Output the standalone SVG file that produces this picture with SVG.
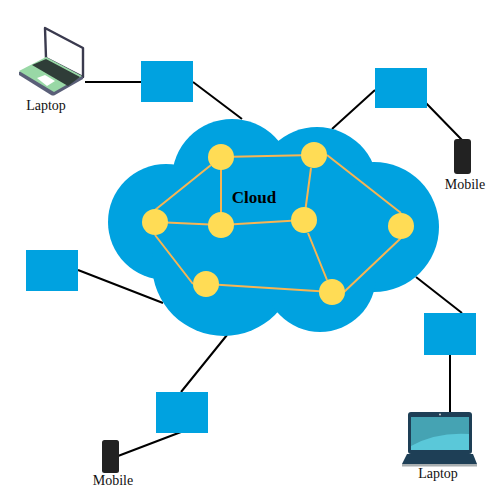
<svg xmlns="http://www.w3.org/2000/svg" width="500" height="500" viewBox="0 0 500 500">
<style>
.cl{fill:#00a2e0}
.box{fill:#00a2e0}
.wire{stroke:#000;stroke-width:2;fill:none}
.link{stroke:#f7b553;stroke-width:2;fill:none}
.n{fill:#ffdc55}
.t{font-family:"Liberation Serif",serif;font-size:14px;fill:#111;text-anchor:middle}
</style>
<g id="connectors">
<path class="wire" d="M85 82H141M193 82L242 119M332 129L375 90M424 101L462 140M78 270L163 303M227 335L181 392M181 432L118 456M416 277L462 313M450 355V412"/>
</g>
<g id="cloud">
<circle class="cl" cx="166" cy="222" r="58"/>
<circle class="cl" cx="232" cy="179" r="60"/>
<circle class="cl" cx="317" cy="188" r="61"/>
<circle class="cl" cx="374" cy="227" r="65"/>
<circle class="cl" cx="224" cy="264" r="72"/>
<circle class="cl" cx="320" cy="276" r="56"/>
<rect class="cl" x="170" y="170" width="200" height="110"/>
<text x="254" y="203" font-family="'Liberation Serif',serif" font-size="17" font-weight="bold" text-anchor="middle" fill="#000">Cloud</text>
</g>
<g id="mesh">
<path class="link" d="M221 157L314 155M211 165L155 210M221 157V225M155 222L221 225L304 220M311 168L304 220M327 155L401 213M401 238L344 292M308 233L327 280M332 292L206 284M193 284L155 235"/>
</g>
<g id="n1"><circle class="n" cx="221" cy="157" r="13"/></g>
<g id="n2"><circle class="n" cx="314" cy="155" r="13"/></g>
<g id="n3"><circle class="n" cx="155" cy="222" r="13"/></g>
<g id="n4"><circle class="n" cx="221" cy="225" r="13"/></g>
<g id="n5"><circle class="n" cx="304" cy="220" r="13"/></g>
<g id="n6"><circle class="n" cx="401" cy="226" r="13"/></g>
<g id="n7"><circle class="n" cx="206" cy="284" r="13"/></g>
<g id="n8"><circle class="n" cx="332" cy="292" r="13"/></g>
<g id="box1"><rect class="box" x="141" y="61" width="52" height="41"/></g>
<g id="box2"><rect class="box" x="375" y="68" width="52" height="40"/></g>
<g id="box3"><rect class="box" x="26" y="250" width="52" height="41"/></g>
<g id="box4"><rect class="box" x="424" y="313" width="52" height="42"/></g>
<g id="box5"><rect class="box" x="156" y="392" width="52" height="41"/></g>
<g id="laptop1">
<path d="M45 28L83 48V77L46 58Z" fill="#fff" stroke="#3a3a4e" stroke-width="2.4" stroke-linejoin="round"/>
<path d="M19 72L46 58L83 77V79L55 95Q53 96 51 95L19 75Z" fill="#5a5f78"/>
<path d="M19 71L46 57L82 76L54 92Z" fill="#99d8a6"/>
<path d="M32 65L46 59L80 77L68 86Z" fill="#2f3d38"/>
<path d="M37 78L45 75L55 81L47 86Z" fill="#fff"/>
<text class="t" x="46" y="110">Laptop</text>
</g>
<g id="mobile1">
<rect x="454" y="139" width="17" height="35" rx="3" fill="#222"/>
<text class="t" x="465" y="189">Mobile</text>
</g>
<g id="mobile2">
<rect x="102" y="440" width="17" height="33" rx="2.500" fill="#222"/>
<text class="t" x="113" y="485">Mobile</text>
</g>
<g id="laptop2">
<rect x="408" y="412" width="64" height="42" rx="3" fill="#1e3f56"/>
<rect x="411" y="417" width="58" height="33" fill="#45a3b3"/>
<path d="M411 450V446Q436 432 469 434V450Z" fill="#5ac8d9"/>
<circle cx="440" cy="414.500" r="1" fill="#ccc"/>
<path d="M407 454H473L477 464H402Z" fill="#1e3f56"/>
<rect x="402" y="464" width="75" height="2.500" fill="#a8aeb0"/>
<text class="t" x="438" y="478">Laptop</text>
</g>
</svg>
